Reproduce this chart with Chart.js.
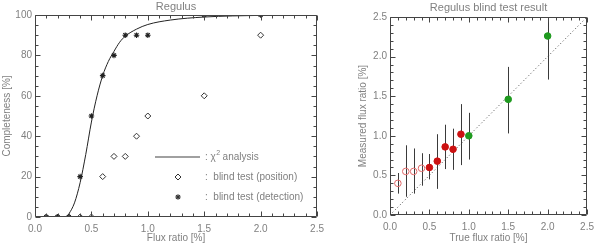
<!DOCTYPE html>
<html><head><meta charset="utf-8">
<script src="https://cdn.jsdelivr.net/npm/chart.js@4/dist/chart.umd.min.js"></script>
<style>
html,body{margin:0;padding:0;background:#fff;}
#wrap{position:relative;width:600px;height:244px;overflow:hidden;}
#c1{position:absolute;left:0;top:0;}
#c2{position:absolute;left:330px;top:0;}
</style></head><body>
<div id="wrap"><canvas id="c1" width="330" height="244"></canvas><canvas id="c2" width="270" height="244"></canvas></div>
<script>
// ---- data: left panel (completeness) ----
const fluxRatio = [0.1,0.2,0.3,0.4,0.5,0.6,0.7,0.8,0.9,1.0,1.5,2.0];
const detectionCompleteness = [0,0,0,20,50,70,80,90,90,90,100,100];
const positionCompleteness = [0,0,0,0,0,20,30,30,40,50,60,90];
const chi2Flux = [0.28,0.30,0.35,0.40,0.45,0.50,0.55,0.60,0.65,0.70,0.75,0.80,0.90,1.00,1.20,1.50,2.00,2.50];
const chi2Completeness = [0,1.5,7,17,31,47,60,70,77,82,86.5,89.5,93,95.3,97.5,99,99.8,100];
const leftTitle = 'Regulus';
const leftXTitle = 'Flux ratio [%]';
const leftYTitle = 'Completeness [%]';
const legendLabels = ['analysis','blind test (position)','blind test (detection)'];

// ---- data: right panel (blind test) ----
const trueFlux = [0.1,0.2,0.3,0.4,0.5,0.6,0.7,0.8,0.9,1.0,1.5,2.0];
const measuredFlux = [0.40,0.55,0.55,0.59,0.60,0.68,0.86,0.83,1.02,1.00,1.46,2.26];
const measuredLow  = [0.27,0.23,0.27,0.37,0.45,0.33,0.58,0.57,0.63,0.70,1.03,1.71];
const measuredHigh = [0.53,0.88,0.84,0.78,0.77,1.02,1.14,1.09,1.40,1.29,1.87,2.50];
const pointClass = ['open','open','open','open','red','red','red','red','red','green','green','green'];
const diagonal = [0, 2.5];
const rightTitle = 'Regulus blind test result';
const rightXTitle = 'True flux ratio [%]';
const rightYTitle = 'Measured flux ratio [%]';

const TXT = '#808080';
const FONT = '10px "Liberation Sans", Arial, sans-serif';
Chart.defaults.font.family = '"Liberation Sans", Arial, sans-serif';
Chart.defaults.font.size = 10;
Chart.defaults.color = TXT;

function pts(xs, ys){ return xs.map((x,i)=>({x:x, y:ys[i]})); }

// frame + inward major/minor ticks on all four sides, plus titles
const frameTicks = {
  id:'frameTicks',
  afterDatasetsDraw(chart, args, o){
    const {ctx, chartArea:a, scales:{x,y}} = chart;
    ctx.save();
    ctx.strokeStyle = '#444'; ctx.lineWidth = 1;
    ctx.beginPath();
    const L=Math.round(a.left)+0.5, R=Math.round(a.right)-0.5, T=Math.round(a.top)+0.5, B=Math.round(a.bottom)-0.5;
    ctx.rect(L, T, R-L, B-T);
    const n1 = Math.round((x.max-x.min)/o.xMinor);
    for(let i=0;i<=n1;i++){
      const v = x.min + i*o.xMinor;
      const maj = Math.abs(v/o.xMajor - Math.round(v/o.xMajor))<1e-6;
      const len = maj?5:3;
      const px = Math.round(x.getPixelForValue(v))+0.5;
      ctx.moveTo(px,B); ctx.lineTo(px,B-len);
      ctx.moveTo(px,T); ctx.lineTo(px,T+len);
    }
    const n2 = Math.round((y.max-y.min)/o.yMinor);
    for(let i=0;i<=n2;i++){
      const v = y.min + i*o.yMinor;
      const maj = Math.abs(v/o.yMajor - Math.round(v/o.yMajor))<1e-6;
      const len = maj?5:3;
      const py = Math.round(y.getPixelForValue(v))+0.5;
      ctx.moveTo(L,py); ctx.lineTo(L+len,py);
      ctx.moveTo(R,py); ctx.lineTo(R-len,py);
    }
    ctx.stroke();
    // titles
    ctx.fillStyle = TXT;
    ctx.font = '11px "Liberation Sans", Arial, sans-serif';
    ctx.textAlign='center'; ctx.textBaseline='middle';
    const cx = (a.left+a.right)/2, cy=(a.top+a.bottom)/2;
    ctx.fillText(o.title, cx, o.titleY);
    ctx.font = FONT;
    ctx.fillText(o.xTitle, cx, o.xTitleY);
    ctx.save(); ctx.translate(o.yTitleX, cy); ctx.rotate(-Math.PI/2);
    ctx.fillText(o.yTitle, 0, 0); ctx.restore();
    ctx.restore();
  }
};

// legend of the left panel
const leftLegend = {
  id:'leftLegend',
  afterDatasetsDraw(chart){
    const {ctx, chartArea:a} = chart;
    const x0 = a.left + 120, x1 = a.left + 165, sx = a.left + 143, tx = a.left + 170;
    const y0 = a.top + 142, y1 = a.top + 162, y2 = a.top + 182;
    ctx.save();
    ctx.strokeStyle = '#a0a0a0'; ctx.lineWidth = 2;
    ctx.beginPath(); ctx.moveTo(x0,y0); ctx.lineTo(x1,y0); ctx.stroke();
    ctx.strokeStyle = '#333'; ctx.fillStyle='rgba(0,0,0,0)'; ctx.lineWidth = 1;
    Chart.helpers.drawPoint(ctx, {pointStyle:'rectRot', radius:3, borderWidth:1}, sx, y1);
    ctx.lineWidth = 1.1;
    Chart.helpers.drawPoint(ctx, {pointStyle:'star', radius:2.8, borderWidth:1.1}, sx, y2);
    ctx.fillStyle = TXT; ctx.font = FONT; ctx.textBaseline='middle'; ctx.textAlign='left';
    ctx.fillText(': \u03c7', tx, y0);
    let w = ctx.measureText(': \u03c7').width;
    ctx.font = '7px "Liberation Sans", Arial, sans-serif';
    ctx.fillText('2', tx+w+0.5, y0-4);
    ctx.font = FONT;
    ctx.fillText(' ' + legendLabels[0], tx+w+4, y0);
    ctx.fillText(':  ' + legendLabels[1], tx, y1);
    ctx.fillText(':  ' + legendLabels[2], tx, y2);
    ctx.restore();
  }
};

// error bars of the right panel
const errorBars = {
  id:'errorBars',
  beforeDatasetsDraw(chart){
    const {ctx, scales:{x,y}, chartArea:a} = chart;
    ctx.save();
    ctx.beginPath(); ctx.rect(a.left,a.top,a.right-a.left,a.bottom-a.top); ctx.clip();
    ctx.strokeStyle = '#3a3a3a'; ctx.lineWidth = 1;
    ctx.beginPath();
    trueFlux.forEach((v,i)=>{
      const px = Math.round(x.getPixelForValue(v))+0.5;
      ctx.moveTo(px, y.getPixelForValue(measuredLow[i]));
      ctx.lineTo(px, y.getPixelForValue(measuredHigh[i]));
    });
    ctx.stroke();
    ctx.restore();
  }
};

const fmt1 = v => Number(v).toFixed(1);

function scales(xMax, yMax, yStep, yFmt, yW, xH){
  return {
    x:{type:'linear', min:0, max:xMax,
       grid:{display:false, drawTicks:false}, border:{display:false},
       ticks:{stepSize:0.5, callback:fmt1, padding:6, color:TXT, maxRotation:0, autoSkip:false},
       afterFit(s){ s.height = xH; }},
    y:{type:'linear', min:0, max:yMax,
       grid:{display:false, drawTicks:false}, border:{display:false},
       ticks:{stepSize:yStep, callback:yFmt, padding:3, color:TXT},
       afterFit(s){ s.width = yW; }}
  };
}

new Chart(document.getElementById('c1'), {
  type:'scatter',
  data:{datasets:[
    {type:'line', data:pts(chi2Flux, chi2Completeness), borderColor:'#222', borderWidth:1,
     pointRadius:0, cubicInterpolationMode:'monotone', fill:false, order:3},
    {data:pts(fluxRatio, positionCompleteness), pointStyle:'rectRot', pointRadius:3,
     borderColor:'#333', backgroundColor:'rgba(0,0,0,0)', borderWidth:1, clip:0, order:2},
    {data:pts(fluxRatio, detectionCompleteness), pointStyle:'star', pointRadius:2.8,
     borderColor:'#222', backgroundColor:'#222', borderWidth:1.1, order:1}
  ]},
  options:{
    responsive:false, animation:false, devicePixelRatio:1,
    layout:{padding:{left:0, right:10, top:15, bottom:0}},
    scales: scales(2.5, 100, 20, v=>String(v), 35, 27),
    plugins:{legend:{display:false}, tooltip:{enabled:false},
      frameTicks:{xMinor:0.1, xMajor:0.5, yMinor:5, yMajor:20,
        title:leftTitle, titleY:7, xTitle:leftXTitle, xTitleY:238, yTitle:leftYTitle, yTitleX:7}}
  },
  plugins:[frameTicks, leftLegend]
});

const idxOf = c => pointClass.map((k,i)=>k===c?i:-1).filter(i=>i>=0);
function classPts(c){ return idxOf(c).map(i=>({x:trueFlux[i], y:measuredFlux[i]})); }

new Chart(document.getElementById('c2'), {
  type:'scatter',
  data:{datasets:[
    {type:'line', data:pts(diagonal, diagonal), borderColor:'#444', borderWidth:1, borderDash:[1,2.5],
     pointRadius:0, fill:false, order:4},
    {data:classPts('open'), pointStyle:'circle', pointRadius:3.3, borderColor:'#e06868',
     backgroundColor:'rgba(255,255,255,0)', borderWidth:1, order:3},
    {data:classPts('red'), pointStyle:'circle', pointRadius:3.3, borderColor:'#cc1111',
     backgroundColor:'#cc1111', borderWidth:1, order:2},
    {data:classPts('green'), pointStyle:'circle', pointRadius:3.3, borderColor:'#1f9a1f',
     backgroundColor:'#1f9a1f', borderWidth:1, order:1}
  ]},
  options:{
    responsive:false, animation:false, devicePixelRatio:1,
    layout:{padding:{left:0, right:7, top:17, bottom:0}},
    scales: scales(2.5, 2.5, 0.5, fmt1, 60, 29),
    plugins:{legend:{display:false}, tooltip:{enabled:false},
      frameTicks:{xMinor:0.1, xMajor:0.5, yMinor:0.1, yMajor:0.5,
        title:rightTitle, titleY:8, xTitle:rightXTitle, xTitleY:238, yTitle:rightYTitle, yTitleX:33}}
  },
  plugins:[frameTicks, errorBars]
});
</script>
</body></html>
